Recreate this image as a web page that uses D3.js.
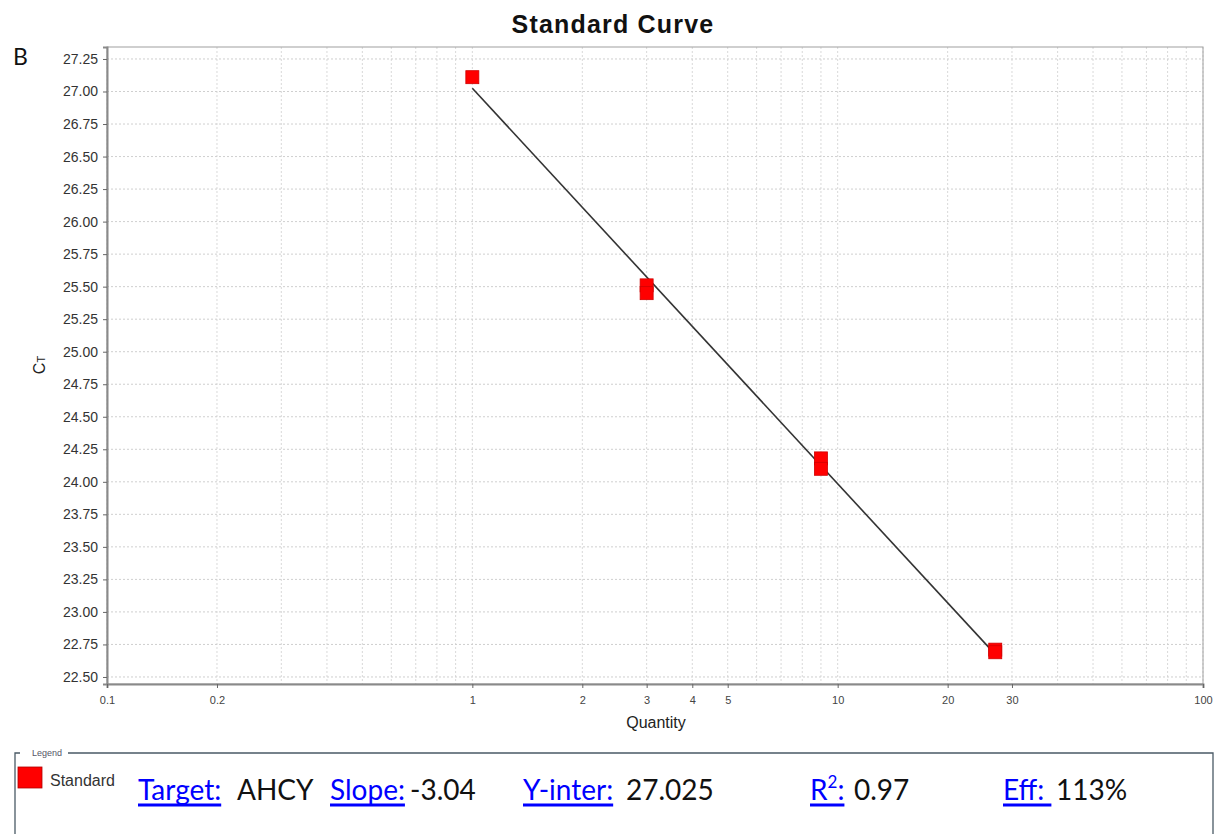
<!DOCTYPE html>
<html><head><meta charset="utf-8">
<script src="https://cdn.jsdelivr.net/npm/d3@7"></script>
<style>
body{margin:0;background:#fff;}
svg{display:block;}
</style></head>
<body>
<svg id="chart" width="1221" height="834"></svg>
<script>
// ---- data ----
const quantities = [1, 3, 3, 9, 9, 27, 27];
const ctValues   = [27.11, 25.51, 25.45, 24.18, 24.10, 22.71, 22.69];
const yTicks = [22.50,22.75,23.00,23.25,23.50,23.75,24.00,24.25,24.50,24.75,25.00,25.25,25.50,25.75,26.00,26.25,26.50,26.75,27.00,27.25];
const xTickLabels = [0.1, 0.2, 1, 2, 3, 4, 5, 10, 20, 30, 100];
const fitSlope = -3.04, fitIntercept = 27.025;
const statLabels = ["Target:", "Slope:", "Y-inter:", "R", "Eff: "];
const statValues = ["AHCY", "-3.04", "27.025", "0.97", "113%"];

const svg = d3.select("#chart");
const L = 107, R = 1203, T = 47, B = 684;
const x = d3.scaleLog().domain([0.1, 100]).range([L, R]);
const y = d3.scaleLinear().domain([22.446, 27.342]).range([B, T]);
const sans = "Liberation Sans, Arial, sans-serif";

// grid
const g = svg.append("g");
g.selectAll(".vg").data(x.ticks()).join("line")
  .attr("x1", d => x(d)).attr("x2", d => x(d)).attr("y1", T).attr("y2", B)
  .attr("stroke", "#d9d9d9").attr("stroke-width", 1).attr("stroke-dasharray", "2,2");
g.selectAll(".hg").data(yTicks).join("line")
  .attr("x1", L).attr("x2", R).attr("y1", d => y(d)).attr("y2", d => y(d))
  .attr("stroke", "#cfcfcf").attr("stroke-width", 1).attr("stroke-dasharray", "2,2");

// frame
svg.append("rect").attr("x", L).attr("y", T).attr("width", R - L).attr("height", B - T)
  .attr("fill", "none").attr("stroke", "#a0a0a0").attr("stroke-width", 1);

// axes
const yAxis = d3.axisLeft(y).tickValues(yTicks).tickFormat(d3.format(".2f")).tickSize(4).tickPadding(5);
const ya = svg.append("g").attr("transform", `translate(${L},0)`).call(yAxis);
ya.select(".domain").attr("stroke", "#8a8a8a").attr("stroke-width", 2);
ya.selectAll(".tick line").attr("stroke", "#666");
ya.selectAll("text").attr("font-family", sans).attr("font-size", 14).attr("fill", "#333");

const xAxis = d3.axisBottom(x).tickValues(xTickLabels).tickFormat(d => String(d)).tickSize(4).tickPadding(8);
const xa = svg.append("g").attr("transform", `translate(0,${B})`).call(xAxis);
xa.select(".domain").attr("stroke", "#8a8a8a").attr("stroke-width", 2);
xa.selectAll(".tick line").attr("stroke", "#666");
xa.selectAll("text").attr("font-family", sans).attr("font-size", 11).attr("fill", "#444");

// fit line
const xMin = d3.min(quantities), xMax = d3.max(quantities);
svg.append("line")
  .attr("x1", x(xMin)).attr("y1", y(fitIntercept + fitSlope * Math.log10(xMin)))
  .attr("x2", x(xMax)).attr("y2", y(fitIntercept + fitSlope * Math.log10(xMax)))
  .attr("stroke", "#333").attr("stroke-width", 1.6);

// points
const ms = 13;
svg.selectAll(".pt").data(quantities.map((q, i) => ({q, c: ctValues[i]}))).join("rect")
  .attr("x", d => x(d.q) - ms / 2).attr("y", d => y(d.c) - ms / 2)
  .attr("width", ms).attr("height", ms)
  .attr("fill", "#ff0000").attr("stroke", "#d00000").attr("stroke-width", 0.8);

// titles
svg.append("text").attr("x", 613).attr("y", 33).attr("text-anchor", "middle")
  .attr("font-family", sans).attr("font-weight", "bold").attr("letter-spacing", 1.2)
  .attr("font-size", 25).attr("fill", "#111").text("Standard Curve");
svg.append("text").attr("x", 13).attr("y", 65)
  .attr("font-family", "Lato, Open Sans, sans-serif").attr("font-size", 23).attr("fill", "#111").text("B");
svg.append("text").attr("x", 656).attr("y", 728).attr("text-anchor", "middle")
  .attr("font-family", sans).attr("font-size", 16).attr("fill", "#222").text("Quantity");
const yl = svg.append("text").attr("transform", "translate(45,365) rotate(-90)").attr("text-anchor", "middle")
  .attr("font-family", sans).attr("fill", "#222");
yl.append("tspan").attr("font-size", 16).text("C");
yl.append("tspan").attr("font-size", 11).text("T");

// legend box
svg.append("path").attr("d", "M15,834 L15,753 L20,753 M68,753 L1213,753 L1213,834")
  .attr("fill", "none").attr("stroke", "#4a5a66").attr("stroke-width", 1.3);
svg.append("text").attr("x", 32).attr("y", 756).attr("font-family", sans)
  .attr("font-size", 9).attr("fill", "#556").text("Legend");
svg.append("rect").attr("x", 18).attr("y", 767).attr("width", 24).attr("height", 21)
  .attr("fill", "#ff0000").attr("stroke", "#b00000").attr("stroke-width", 0.8);
svg.append("clipPath").attr("id", "lc").append("rect").attr("x", 45).attr("y", 760).attr("width", 73).attr("height", 35);
svg.append("text").attr("x", 50).attr("y", 786).attr("clip-path", "url(#lc)")
  .attr("font-family", sans).attr("font-size", 16).attr("fill", "#333").text("Standard");

// stats text
const statX = [138, 330, 523, 810, 1003];
const valX = [237, 410, 626, 854, 1056];
const font = "Lato, Open Sans, sans-serif";
const fs = 28, base = 800;
statLabels.forEach((lab, i) => {
  const t = svg.append("text").attr("x", statX[i]).attr("y", base)
    .attr("font-family", font).attr("font-size", fs).attr("fill", "#0000ff")
    .attr("xml:space", "preserve").style("white-space", "pre");
  if (lab === "R") {
    t.append("tspan").text("R");
    t.append("tspan").attr("font-size", 17).attr("dy", -12).text("2");
    t.append("tspan").attr("dy", 12).text(":");
  } else {
    t.text(lab);
  }
  const w = t.node().getComputedTextLength();
  svg.append("line").attr("x1", statX[i]).attr("x2", statX[i] + w)
    .attr("y1", base + 5).attr("y2", base + 5).attr("stroke", "#0000ff").attr("stroke-width", 3);
  svg.append("text").attr("x", valX[i]).attr("y", base)
    .attr("font-family", font).attr("font-size", fs).attr("fill", "#111").text(statValues[i]);
});
</script>
</body></html>
